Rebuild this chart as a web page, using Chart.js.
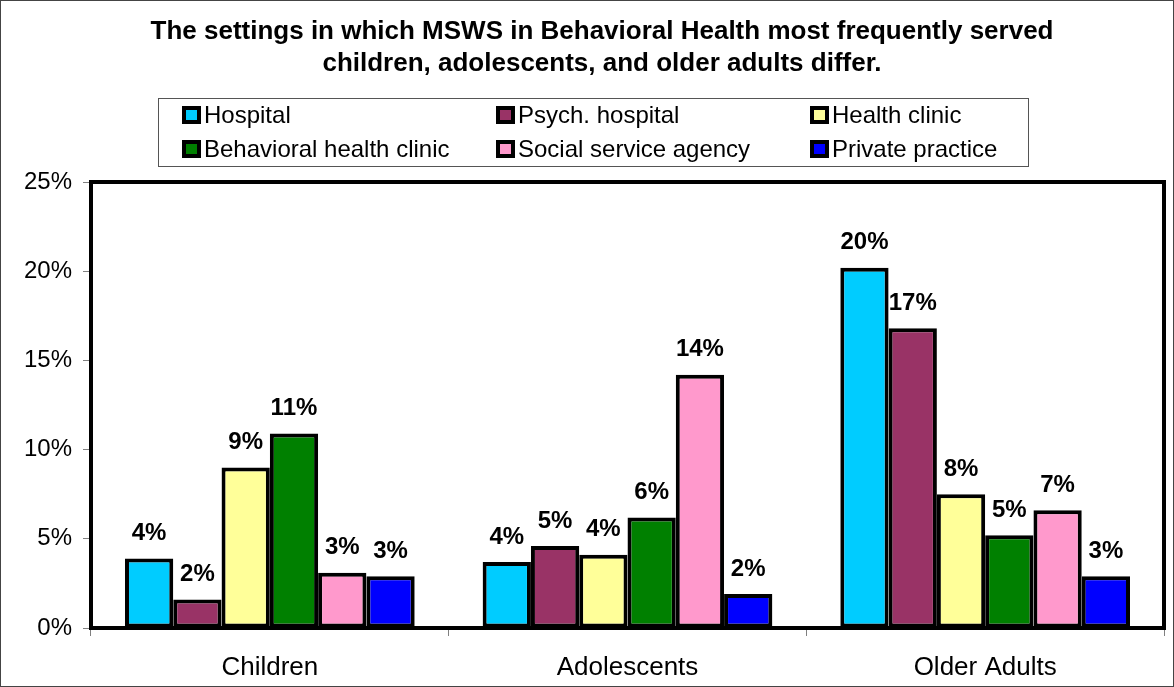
<!DOCTYPE html>
<html>
<head>
<meta charset="utf-8">
<script src="https://cdn.jsdelivr.net/npm/chart.js@4.4.0/dist/chart.umd.min.js"></script>
<style>
  body { margin: 0; background: #fff; }
  #wrap { width: 1174px; height: 687px; position: relative; }
</style>
</head>
<body>
<div id="wrap"><canvas id="settingsChart"></canvas></div>
<script>
// age groups on the x axis
const groups = ['Children', 'Adolescents', 'Older Adults'];

// one series per setting, values in percent
const hospital = [3.9, 3.7, 20.2];
const psychHospital = [1.6, 4.6, 16.8];
const healthClinic = [9.0, 4.1, 7.5];
const bhClinic = [10.9, 6.2, 5.2];
const socialAgency = [3.1, 14.2, 6.6];
const privatePractice = [2.9, 1.9, 2.9];

const seriesNames = ['Hospital', 'Psych. hospital', 'Health clinic',
  'Behavioral health clinic', 'Social service agency', 'Private practice'];
const seriesColors = ['#00CCFF', '#993366', '#FFFF99', '#008000', '#FF99CC', '#0000FF'];
const seriesValues = [hospital, psychHospital, healthClinic, bhClinic, socialAgency, privatePractice];

const yTicks = [0, 5, 10, 15, 20, 25];

const FONT = 'Arial, "Liberation Sans", sans-serif';

// the title in the original sits a bit right of the canvas centre
const titleShift = {
  id: 'titleShift',
  afterLayout(chart) {
    if (chart.titleBlock) chart.titleBlock.left = 40;
  }
};

// legend box, frame around plot, frame around the whole picture
const framePlugin = {
  id: 'frames',
  afterDraw(chart) {
    const ctx = chart.ctx;
    const a = chart.chartArea;
    ctx.save();
    // plot area border (thick)
    ctx.strokeStyle = '#000';
    ctx.lineWidth = 4;
    ctx.strokeRect(a.left, a.top, a.right - a.left, a.bottom - a.top);
    // outer border
    ctx.strokeStyle = '#444';
    ctx.lineWidth = 1;
    ctx.strokeRect(0.5, 0.5, chart.width - 1, chart.height - 1);
    // legend box
    ctx.strokeStyle = '#555';
    ctx.strokeRect(158.5, 98.5, 870, 68);
    const colX = [182, 496, 810];
    const rowY = [115, 149];
    ctx.font = '24px ' + FONT;
    ctx.textBaseline = 'middle';
    ctx.textAlign = 'left';
    seriesNames.forEach((name, i) => {
      const x = colX[i % 3];
      const y = rowY[Math.floor(i / 3)];
      ctx.fillStyle = '#000';
      ctx.fillRect(x, y - 9, 19, 18);
      ctx.fillStyle = seriesColors[i];
      ctx.fillRect(x + 4, y - 5, 11, 10);
      ctx.fillStyle = '#000';
      ctx.fillText(name, x + 22, y + 1);
    });
    ctx.restore();
  }
};

// bold percentage labels above each bar
const labelPlugin = {
  id: 'barLabels',
  afterDatasetsDraw(chart) {
    const ctx = chart.ctx;
    ctx.save();
    ctx.font = 'bold 24px ' + FONT;
    ctx.fillStyle = '#000';
    ctx.textAlign = 'center';
    ctx.textBaseline = 'middle';
    chart.data.datasets.forEach((ds, di) => {
      chart.getDatasetMeta(di).data.forEach((bar, i) => {
        ctx.fillText(Math.round(ds.data[i]) + '%', bar.x, bar.y - 25);
      });
    });
    ctx.restore();
  }
};

let ctx = document.getElementById('settingsChart').getContext('2d');

new Chart(ctx, {
  type: 'bar',
  data: {
    labels: groups,
    datasets: seriesNames.map((name, i) => ({
      label: name,
      data: seriesValues[i],
      backgroundColor: seriesColors[i],
      borderColor: '#000',
      borderWidth: 4,
      borderSkipped: false,
      categoryPercentage: 0.81,
      barPercentage: 1.0
    }))
  },
  options: {
    responsive: true,
    maintainAspectRatio: false,
    animation: false,
    devicePixelRatio: 1,
    layout: { padding: { left: 0, right: 10, top: 0, bottom: 0 } },
    plugins: {
      legend: { display: false },
      tooltip: { enabled: false },
      title: {
        display: true,
        text: ['The settings in which MSWS in Behavioral Health most frequently served',
               'children, adolescents, and older adults differ.'],
        color: '#000',
        font: { family: FONT, size: 26, weight: 'bold', lineHeight: '32px' },
        padding: { top: 16, bottom: 102 }
      }
    },
    scales: {
      x: {
        afterFit: s => { s.height = 59; },
        grid: { drawOnChartArea: false, tickLength: 8, color: '#808080', offset: true },
        border: { display: false },
        ticks: { color: '#000', font: { family: FONT, size: 26 }, padding: 16 }
      },
      y: {
        min: 0,
        max: 25,
        afterFit: s => { s.width = 91; },
        afterBuildTicks: axis => { axis.ticks = yTicks.map(v => ({ value: v })); },
        grid: { drawOnChartArea: false, tickLength: 8, color: '#808080' },
        border: { display: false },
        ticks: {
          color: '#000',
          font: { family: FONT, size: 24 },
          padding: 11,
          callback: v => v + '%'
        }
      }
    }
  },
  plugins: [titleShift, framePlugin, labelPlugin]
});
</script>
</body>
</html>
